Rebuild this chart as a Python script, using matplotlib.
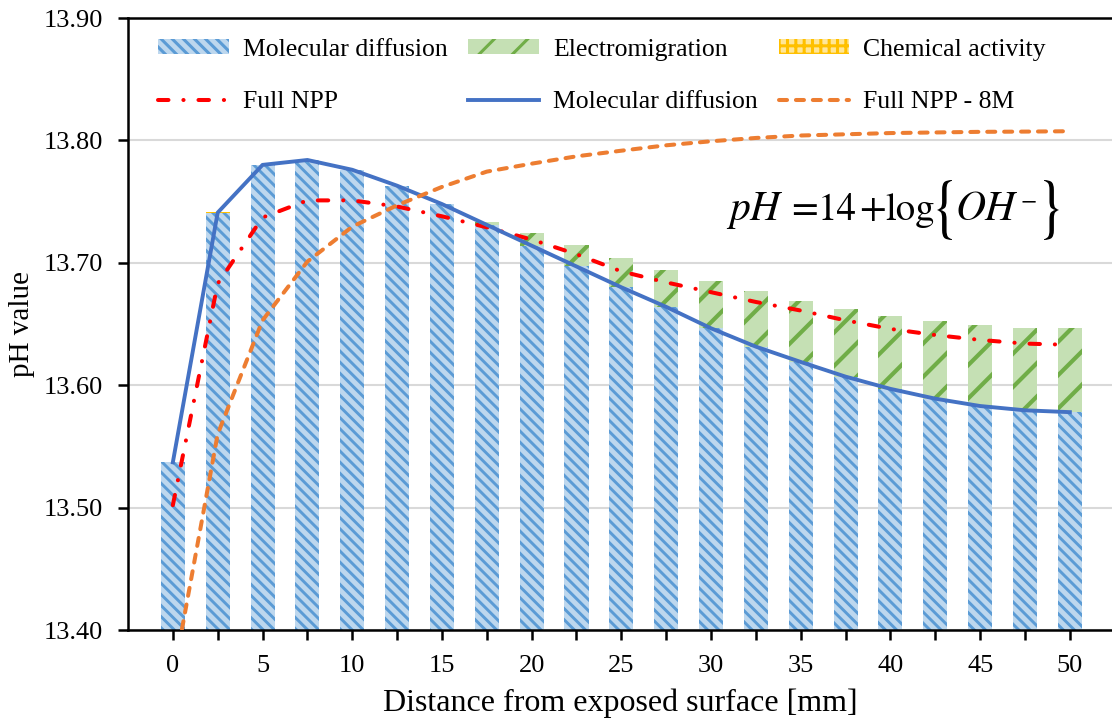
import numpy as np
import matplotlib
matplotlib.use('Agg')
import matplotlib.pyplot as plt
from matplotlib.patches import Patch, PathPatch
from matplotlib.lines import Line2D
from matplotlib.textpath import TextPath
from matplotlib.font_manager import FontProperties
from matplotlib.transforms import Affine2D, IdentityTransform

plt.rcParams['font.family'] = ['Liberation Serif', 'DejaVu Serif']
plt.rcParams['mathtext.fontset'] = 'stix'
plt.rcParams['hatch.linewidth'] = 2.2

# distance from exposed surface [mm]
distance = [0, 2.5, 5, 7.5, 10, 12.5, 15, 17.5, 20, 22.5, 25,
            27.5, 30, 32.5, 35, 37.5, 40, 42.5, 45, 47.5, 50]

# stacked bar contributions (pH)
molecular_bar = [13.537, 13.741, 13.780, 13.784, 13.776, 13.763, 13.748, 13.731, 13.714, 13.697, 13.680,
                 13.664, 13.6465, 13.6315, 13.619, 13.607, 13.597, 13.589, 13.583, 13.5795, 13.578]
electro_bar = [0, 0, 0, 0, 0, 0, 0, 0.0026, 0.0104, 0.0175, 0.0237,
               0.030, 0.0385, 0.0455, 0.050, 0.055, 0.0595, 0.0635, 0.066, 0.0675, 0.0685]
chemical_bar = [0.0004, 0.0003, 0, 0, 0, 0, 0, 0, 0, 0, 0,
                0, 0, 0, 0, 0, 0, 0, 0, 0, 0]

# line series (pH)
full_npp = [13.502, 13.683, 13.737, 13.751, 13.751, 13.746, 13.738, 13.729, 13.719, 13.707, 13.693,
            13.684, 13.676, 13.668, 13.661, 13.653, 13.646, 13.641, 13.637, 13.634, 13.633]
molecular_line = molecular_bar
full_npp_8m = [13.36, 13.56, 13.653, 13.701, 13.7295, 13.747, 13.762, 13.7745, 13.781, 13.787, 13.7916,
               13.796, 13.7993, 13.802, 13.804, 13.805, 13.806, 13.8065, 13.807, 13.8072, 13.8075]

x_labels = ['0', '5', '10', '15', '20', '25', '30', '35', '40', '45', '50']

c_blue_bg, c_blue = '#BDD7EE', '#5B9BD5'
c_green_bg, c_green = '#C5E0B4', '#70AD47'
c_yel_bg, c_yel = '#FFE699', '#FFC000'

W, H = 1112, 723
fig = plt.figure(figsize=(W / 100, H / 100), dpi=100)
ax = fig.add_axes([0.1151, 0.1286, 0.8849, 0.8465])

x = np.array(distance)
base = 13.40
w = 1.34
mol = np.array(molecular_bar) - base
ele = np.array(electro_bar)
che = np.array(chemical_bar)


def set_hlw(patches, lw):
    for p in patches:
        if hasattr(p, 'set_hatch_linewidth'):
            p.set_hatch_linewidth(lw)


b1 = ax.bar(x, mol, w, bottom=base, color=c_blue_bg, edgecolor=c_blue, hatch='\\\\\\', lw=0, zorder=2)
b2 = ax.bar(x, ele, w, bottom=base + mol, color=c_green_bg, edgecolor=c_green, hatch='/', lw=0, zorder=2)
b3 = ax.bar(x, che, w, bottom=base + mol + ele, color=c_yel_bg, edgecolor=c_yel, hatch='++', lw=0, zorder=2)
set_hlw(b1, 2.1)
set_hlw(b2, 3.0)
set_hlw(b3, 2.0)

ax.plot(x, full_npp, color='#FF0000', lw=2.9, dashes=(2.6, 3.7, 0.05, 3.7),
        dash_capstyle='round', zorder=4)
ax.plot(x, molecular_line, color='#4472C4', lw=2.8, zorder=4)
ax.plot(x, full_npp_8m, color='#ED7D31', lw=2.9, dashes=(2.0, 2.2),
        dash_capstyle='round', zorder=4)

ax.set_xlim(-2.5, 52.35)
ax.set_ylim(13.40, 13.90)
ax.set_yticks(np.arange(13.40, 13.901, 0.10))
ax.set_yticklabels(['%.2f' % v for v in np.arange(13.40, 13.901, 0.10)])
ax.set_xticks(x, minor=True)
ax.set_xticks(x[::2])
ax.set_xticklabels(x_labels)
ax.tick_params(axis='both', which='both', direction='out', width=1.8, color='black')
ax.tick_params(axis='x', which='both', length=7, labelsize=19, pad=11)
ax.tick_params(axis='y', length=7, labelsize=19, pad=11)
ax.grid(axis='y', color='#D9D9D9', lw=1.5, zorder=0)
ax.set_axisbelow(True)
for s in ['left', 'bottom', 'top']:
    ax.spines[s].set_linewidth(1.8)
    ax.spines[s].set_color('black')
ax.spines['right'].set_visible(False)

ax.set_xlabel('Distance from exposed surface [mm]', fontsize=23, labelpad=8)
ax.set_ylabel('pH value', fontsize=21, labelpad=6)

# equation pH = 14 + log{OH-}, pieces placed in pixels
eq_base = H - 220
for txt, px, st, fs in [('pH', 729, 'italic', 30), ('=', 791, 'normal', 28),
                        ('14', 818, 'normal', 28), ('+', 859, 'normal', 28), ('log', 885, 'normal', 28),
                        ('OH', 956, 'italic', 30)]:
    fig.text(px, eq_base, txt, fontsize=fs, family='STIXGeneral', style=st,
             ha='left', va='baseline', transform=IdentityTransform())
fig.text(1020, H - 202, '\u2212', fontsize=17, family='STIXGeneral',
         ha='left', va='center', transform=IdentityTransform())


def brace(ch, x0, x1, ytop, ybot):
    tp = TextPath((0, 0), ch, size=50, prop=FontProperties(family='STIXGeneral'))
    ext = tp.get_extents()
    tr = (Affine2D().translate(-ext.x0, -ext.y0)
          .scale((x1 - x0) / ext.width, (ybot - ytop) / ext.height)
          .translate(x0, H - ybot))
    fig.add_artist(PathPatch(tp, transform=tr, facecolor='black', lw=0))


brace('{', 937, 952, 180, 240)
brace('}', 1044, 1059, 180, 240)

h1 = Patch(facecolor=c_blue_bg, edgecolor=c_blue, hatch='\\\\\\', lw=0)
h2 = Patch(facecolor=c_green_bg, edgecolor=c_green, hatch='/', lw=0)
h3 = Patch(facecolor=c_yel_bg, edgecolor=c_yel, hatch='++', lw=0)
set_hlw([h1], 2.1)
set_hlw([h2], 3.0)
set_hlw([h3], 2.0)
h4 = Line2D([], [], color='#FF0000', lw=2.9, dashes=(2.6, 3.7, 0.05, 3.7), dash_capstyle='round')
h5 = Line2D([], [], color='#4472C4', lw=2.8)
h6 = Line2D([], [], color='#ED7D31', lw=2.9, dashes=(2.0, 2.2), dash_capstyle='round')

ax.legend([h1, h4, h2, h5, h3, h6],
          ['Molecular diffusion', 'Full NPP', 'Electromigration', 'Molecular diffusion',
           'Chemical activity', 'Full NPP - 8M'],
          ncol=3, frameon=False, fontsize=18.5, loc='upper left', bbox_to_anchor=(0.01, 1.0),
          handlelength=2.75, handleheight=0.5, handletextpad=0.55, columnspacing=0.8,
          labelspacing=1.2, borderaxespad=0.4)

fig.savefig('out.png', dpi=100)
